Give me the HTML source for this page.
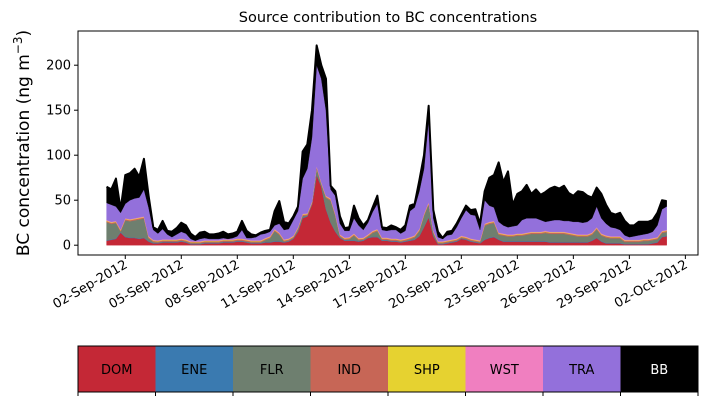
<!DOCTYPE html>
<html><head><meta charset="utf-8"><style>
body{margin:0;background:#fff;}
svg{display:block;font-family:"DejaVu Sans","Liberation Sans",sans-serif;}
</style></head><body>
<svg id="chart" width="707" height="402" viewBox="0 0 707 402">
<text x="388" y="22" font-size="14.5" text-anchor="middle">Source contribution to BC concentrations</text>
<text transform="translate(29,143) rotate(-90)" font-size="17" text-anchor="middle">BC concentration (ng m<tspan baseline-shift="super" font-size="12">−3</tspan>)</text>
<g id="areas"></g>
<g id="axes"></g>
<g id="legend"></g>
</svg>
<script>
const names=["DOM","ENE","FLR","IND","SHP","WST","TRA","BB"];
const colors=["#c42836","#3a7ab0","#6e7f6f","#c76656","#e6d230","#f07fc0","#9370db","#000000"];
const yTicks=[0,50,100,150,200];
const xTickLabels=["02-Sep-2012","05-Sep-2012","08-Sep-2012","11-Sep-2012","14-Sep-2012","17-Sep-2012","20-Sep-2012","23-Sep-2012","26-Sep-2012","29-Sep-2012","02-Oct-2012"];
const xTickDays=[1,4,7,10,13,16,19,22,25,28,31];
const dom=[5,6,7,14,9,8,8,7,8,4,2,2,3,3,3,3,4,3,1,1,1,2,2,2,2,3,3,3,4,4,3,2,2,2,3,3,4,4,3,4,7,15,30,32,45,78,65,40,25,15,8,5,5,5,4,5,8,9,9,5,5,4,4,3,4,5,6,10,20,31,10,1,1,2,3,4,7,6,4,3,2,6,8,9,6,4,4,4,4,4,4,4,4,4,4,3,3,3,3,3,3,3,3,3,5,8,4,2,2,2,2,1,1,1,1,1,1,2,3,9,10];
const ene=[0.6,0.6,0.6,0.6,0.6,0.6,0.6,0.6,0.6,0.6,0.6,0.6,0.6,0.6,0.6,0.6,0.6,0.6,0.6,0.6,0.6,0.6,0.6,0.6,0.6,0.6,0.6,0.6,0.6,0.6,0.6,0.6,0.6,0.6,0.6,0.6,0.6,0.6,0.6,0.6,0.6,0.6,0.6,0.6,0.6,0.6,0.6,0.6,0.6,0.6,0.6,0.6,0.6,0.6,0.6,0.6,0.6,0.6,0.6,0.6,0.6,0.6,0.6,0.6,0.6,0.6,0.6,0.6,0.6,0.6,0.6,0.6,0.6,0.6,0.6,0.6,0.6,0.6,0.6,0.6,0.6,0.6,0.6,0.6,0.6,0.6,0.6,0.6,0.6,0.6,0.6,0.6,0.6,0.6,0.6,0.6,0.6,0.6,0.6,0.6,0.6,0.6,0.6,0.6,0.6,0.6,0.6,0.6,0.6,0.6,0.6,0.6,0.6,0.6,0.6,0.6,0.6,0.6,0.6,0.6,0.6];
const flr=[20,17,17,0.5,18,18,19,21,21,3,1,0.5,0.5,0.5,0.5,0.5,0.5,0.5,0.5,0.5,0.5,0.5,0.5,0.5,0.5,0.5,0.5,0.5,0.5,0.5,0.5,0.5,0.5,0.5,2,4,11,7,0.5,0.5,0.5,2,2,0.5,0.5,7,2,12,24,17,1,0.5,1,5,1,0.5,1,4,6,0.5,0.5,0.5,0.5,0.5,0.5,1,2,5,12,14,3,0.5,0.5,0.5,0.5,0.5,0.5,0.5,0.5,0.5,0.5,15,15,15,5,6,5,5,6,6,7,8,8,8,9,9,9,9,9,8,7,6,6,6,6,9,6,6,5,5,5,2,2,2,2,3,3,3,3,4,4];
const ind=[1.2,1.2,1.2,1.2,1.2,1.2,1.2,1.2,1.2,1.2,1.2,1.2,1.2,1.2,1.2,1.2,1.2,1.2,1.2,1.2,1.2,1.2,1.2,1.2,1.2,1.2,1.2,1.2,1.2,1.2,1.2,1.2,1.2,1.2,1.2,1.2,1.2,1.2,1.2,1.2,1.2,1.2,1.2,1.2,1.2,1.2,1.2,1.2,1.2,1.2,1.2,1.2,1.2,1.2,1.2,1.2,1.2,1.2,1.2,1.2,1.2,1.2,1.2,1.2,1.2,1.2,1.2,1.2,1.2,1.2,1.2,1.2,1.2,1.2,1.2,1.2,1.2,1.2,1.2,1.2,1.2,1.2,1.2,1.2,1.2,1.2,1.2,1.2,1.2,1.2,1.2,1.2,1.2,1.2,1.2,1.2,1.2,1.2,1.2,1.2,1.2,1.2,1.2,1.2,1.2,1.2,1.2,1.2,1.2,1.2,1.2,1.2,1.2,1.2,1.2,1.2,1.2,1.2,1.2,1.2,1.2];
const shp=[0.6,0.6,0.6,0.6,0.6,0.6,0.6,0.6,0.6,0.6,0.6,0.6,0.6,0.6,0.6,0.6,0.6,0.6,0.6,0.6,0.6,0.6,0.6,0.6,0.6,0.6,0.6,0.6,0.6,0.6,0.6,0.6,0.6,0.6,0.6,0.6,0.6,0.6,0.6,0.6,0.6,0.6,0.6,0.6,0.6,0.6,0.6,0.6,0.6,0.6,0.6,0.6,0.6,0.6,0.6,0.6,0.6,0.6,0.6,0.6,0.6,0.6,0.6,0.6,0.6,0.6,0.6,0.6,0.6,0.6,0.6,0.6,0.6,0.6,0.6,0.6,0.6,0.6,0.6,0.6,0.6,0.6,0.6,0.6,0.6,0.6,0.6,0.6,0.6,0.6,0.6,0.6,0.6,0.6,0.6,0.6,0.6,0.6,0.6,0.6,0.6,0.6,0.6,0.6,0.6,0.6,0.6,0.6,0.6,0.6,0.6,0.6,0.6,0.6,0.6,0.6,0.6,0.6,0.6,0.6,0.6];
const wst=[0.6,0.6,0.6,0.6,0.6,0.6,0.6,0.6,0.6,0.6,0.6,0.6,0.6,0.6,0.6,0.6,0.6,0.6,0.6,0.6,0.6,0.6,0.6,0.6,0.6,0.6,0.6,0.6,0.6,0.6,0.6,0.6,0.6,0.6,0.6,0.6,0.6,0.6,0.6,0.6,0.6,0.6,0.6,0.6,0.6,0.6,0.6,0.6,0.6,0.6,0.6,0.6,0.6,0.6,0.6,0.6,0.6,0.6,0.6,0.6,0.6,0.6,0.6,0.6,0.6,0.6,0.6,0.6,0.6,0.6,0.6,0.6,0.6,0.6,0.6,0.6,0.6,0.6,0.6,0.6,0.6,0.6,0.6,0.6,0.6,0.6,0.6,0.6,0.6,0.6,0.6,0.6,0.6,0.6,0.6,0.6,0.6,0.6,0.6,0.6,0.6,0.6,0.6,0.6,0.6,0.6,0.6,0.6,0.6,0.6,0.6,0.6,0.6,0.6,0.6,0.6,0.6,0.6,0.6,0.6,0.6];
const tra=[19,19,16,18.5,16,21,22,22,30,32,11,7.5,11.5,5.5,2.5,5.5,7.5,6.5,2.5,0.5,2.5,2.5,1.5,1.5,1.5,1.5,0.5,1.5,2.5,9.5,1.5,2.5,3.5,6.5,5,5,4,10,10.5,10.5,17.5,18,39,49.5,71.5,112,115,95,10,20,12,7.5,7,17,14,8.5,13,21,28,8.5,7.5,9.5,9.5,6.5,8.5,29,31,42,50,92,14,4.5,2.5,5.5,5.5,12.5,19.5,29.5,26.5,26.5,11.5,26,18,15,12,9,8,9,9,15,16,15,15,13,10,12,13,13,12,13,13,14,13,14,16,23,17,13,10,9,7,5,3,4,5,5,6,7,13,24,26];
const bb=[18,17,31,4,32,30,33,23,34,13,3,4,9,4,6,7,10,9,6,4,7,7,5,5,6,7,5,5,5,10,8,4,2,2,3,2,16,25,9,6,4,5,30,27,30,22,15,35,4,5,8,3,4,14,8,5,3,5,9,3,3,5,3,4,6,6,4,12,15,15,9,6,1,4,4,4,4,5,5,7,7,10,31,36,66,48,62,24,35,32,37,27,32,28,33,36,37,35,39,31,29,34,34,29,23,21,27,21,16,15,19,16,13,12,15,14,13,13,14,10,6];
const series=[dom,ene,flr,ind,shp,wst,tra,bb];
const stepDays=0.25;

const NS="http://www.w3.org/2000/svg";
const X0=78,X1=698,Y0=31,Y1=255;
function xScale(d){return 106.6+d*18.67;}
function yScale(v){return 245.2-v*0.9;}
function mk(tag,attrs,parent){const e=document.createElementNS(NS,tag);for(const k in attrs)e.setAttribute(k,attrs[k]);parent.appendChild(e);return e;}

const areas=document.getElementById('areas');
const n=dom.length;
let base=new Array(n).fill(0);
series.forEach((s,si)=>{
  const top=base.map((b,i)=>b+s[i]);
  let d="";
  for(let i=0;i<n;i++)d+=(i?"L":"M")+xScale(i*stepDays).toFixed(2)+","+yScale(top[i]).toFixed(2);
  for(let i=n-1;i>=0;i--)d+="L"+xScale(i*stepDays).toFixed(2)+","+yScale(base[i]).toFixed(2);
  const p=mk('path',{d:d+"Z",fill:colors[si],stroke:colors[si],'stroke-width':0.4},areas);
  
  
  base=top;
});
let ld="";
for(let i=0;i<n;i++)ld+=(i?"L":"M")+xScale(i*stepDays).toFixed(2)+","+yScale(base[i]).toFixed(2);
const tl=mk('path',{d:ld,fill:'none',stroke:'#000','stroke-width':2,'stroke-linejoin':'round'},areas);



const axes=document.getElementById('axes');
const frame=mk('rect',{x:X0,y:Y0,width:X1-X0,height:Y1-Y0,fill:'none',stroke:'#000','stroke-width':1},axes);


yTicks.forEach(v=>{
  const y=yScale(v);
  mk('line',{x1:X0-4,x2:X0,y1:y,y2:y,stroke:'#000'},axes);
  const t=mk('text',{x:X0-7,y:y+4.5,'font-size':13,'text-anchor':'end'},axes);
  t.textContent=v;
  
  
});
xTickDays.forEach((dd,i)=>{
  const x=xScale(dd);
  mk('line',{x1:x,x2:x,y1:Y1,y2:Y1+4,stroke:'#000'},axes);
  const t=mk('text',{transform:`translate(${x+3},${Y1+12}) rotate(-30)`,'font-size':13,'text-anchor':'end'},axes);
  t.textContent=xTickLabels[i];
  
  
});

const legend=document.getElementById('legend');
const LX=78,LW=620/8,LY=346,LH=46;
names.forEach((nm,i)=>{
  const r=mk('rect',{x:LX+i*LW,y:LY,width:LW,height:LH,fill:colors[i]},legend);
  
  
  const t=mk('text',{x:LX+i*LW+LW/2,y:LY+LH/2+5,'font-size':13,'text-anchor':'middle',fill:nm==="BB"?'#fff':'#000'},legend);
  t.textContent=nm;
  
  
});
for(let i=0;i<=8;i++){mk('line',{x1:LX+i*LW,x2:LX+i*LW,y1:LY+LH,y2:LY+LH+4,stroke:'#000'},legend);}
mk('rect',{x:LX,y:LY,width:620,height:LH,fill:'none',stroke:'#000','stroke-width':1},legend);
</script>
</body></html>
